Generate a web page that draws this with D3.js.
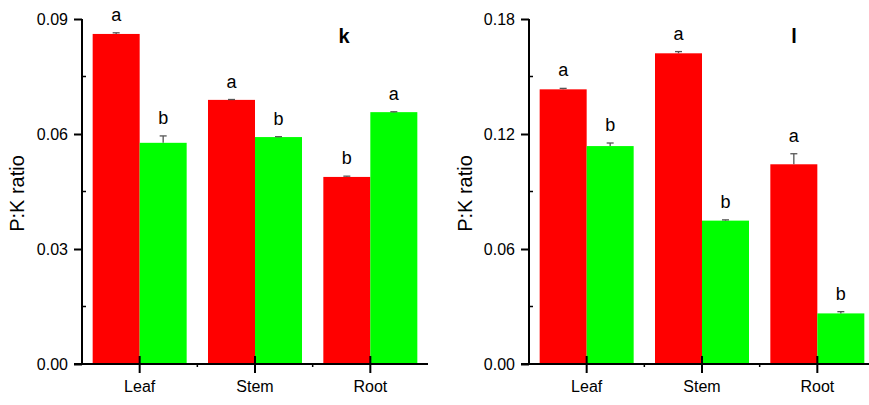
<!DOCTYPE html>
<html>
<head>
<meta charset="utf-8">
<script src="https://cdn.jsdelivr.net/npm/d3@7"></script>
<style>
  html, body { margin: 0; padding: 0; background: #fff; }
  svg { display: block; font-family: "Liberation Sans", Arial, sans-serif; }
</style>
</head>
<body>
<svg id="chart" width="869" height="405"></svg>
<script>
// Tissue categories shared by both panels
const categories = ["Leaf", "Stem", "Root"];

// Panel k: P:K ratio
const kRed = [0.0861, 0.0689, 0.0488];
const kRedErr = [0.0003, 0.0001, 0.0002];
const kGreen = [0.0577, 0.0592, 0.0657];
const kGreenErr = [0.0018, 0.0001, 0.0001];
const kRedLetters = ["a", "a", "b"];
const kGreenLetters = ["b", "b", "a"];
const kTicks = [0.00, 0.03, 0.06, 0.09];

// Panel l: P:K ratio
const lRed = [0.1433, 0.1621, 0.1042];
const lRedErr = [0.0005, 0.0009, 0.0055];
const lGreen = [0.1137, 0.0748, 0.0264];
const lGreenErr = [0.0016, 0.0004, 0.0009];
const lRedLetters = ["a", "a", "a"];
const lGreenLetters = ["b", "b", "b"];
const lTicks = [0.00, 0.06, 0.12, 0.18];

const seriesKeys = ["red", "green"];
const seriesColor = { red: "#ff0000", green: "#00ff00" };

const svg = d3.select("#chart");

function rows(red, redErr, green, greenErr, redL, greenL) {
  return categories.map((c, i) => ({
    category: c,
    values: [
      { key: "red", value: red[i], err: redErr[i], letter: redL[i] },
      { key: "green", value: green[i], err: greenErr[i], letter: greenL[i] }
    ]
  }));
}

function drawPanel(opts) {
  const { left, top, bottom, width, yMax, ticks, data, tag, tagX, tagY, titleX } = opts;
  const g = svg.append("g");

  const x = d3.scaleBand().domain(categories).range([left, left + width]).padding(0);
  const groupW = x.bandwidth() * 0.815;
  const xInner = d3.scaleBand().domain(seriesKeys).range([-groupW / 2, groupW / 2]).padding(0);
  const y = d3.scaleLinear().domain([0, yMax]).range([bottom, top]);

  // bars
  const grp = g.selectAll("g.cat").data(data).join("g")
    .attr("class", "cat")
    .attr("transform", d => `translate(${x(d.category) + x.bandwidth() / 2},0)`);

  grp.selectAll("rect").data(d => d.values).join("rect")
    .attr("x", d => xInner(d.key))
    .attr("width", xInner.bandwidth())
    .attr("y", d => y(d.value))
    .attr("height", d => y(0) - y(d.value))
    .attr("fill", d => seriesColor[d.key]);

  // error bars (upper half)
  const eb = grp.selectAll("g.err").data(d => d.values).join("g")
    .attr("class", "err")
    .attr("stroke", "#555")
    .attr("stroke-width", 1.3);
  eb.append("line")
    .attr("x1", d => xInner(d.key) + xInner.bandwidth() / 2)
    .attr("x2", d => xInner(d.key) + xInner.bandwidth() / 2)
    .attr("y1", d => y(d.value))
    .attr("y2", d => y(d.value + d.err));
  eb.append("line")
    .attr("x1", d => xInner(d.key) + xInner.bandwidth() / 2 - 3.5)
    .attr("x2", d => xInner(d.key) + xInner.bandwidth() / 2 + 3.5)
    .attr("y1", d => y(d.value + d.err))
    .attr("y2", d => y(d.value + d.err));

  // significance letters
  grp.selectAll("text.letter").data(d => d.values).join("text")
    .attr("class", "letter")
    .attr("x", d => xInner(d.key) + xInner.bandwidth() / 2)
    .attr("y", d => y(d.value + d.err) - 12)
    .attr("text-anchor", "middle")
    .attr("font-size", 18)
    .attr("fill", "#000")
    .text(d => d.letter);

  // y axis
  const yAxis = d3.axisLeft(y).tickValues(ticks).tickFormat(d3.format(".2f"))
    .tickSize(8).tickPadding(6);
  const ya = g.append("g").attr("transform", `translate(${left},0)`).call(yAxis);
  ya.select(".domain").attr("d", `M0,${top}V${bottom}`).attr("stroke-width", 2);
  ya.selectAll(".tick line").attr("stroke-width", 2);
  ya.selectAll(".tick text").attr("font-size", 16).attr("fill", "#000")
    .style("font-family", "Liberation Sans, Arial, sans-serif");
  // minor ticks inside
  const minor = d3.range(ticks.length - 1).map(i => (ticks[i] + ticks[i + 1]) / 2);
  g.append("g").selectAll("line").data(minor).join("line")
    .attr("x1", left).attr("x2", left + 4)
    .attr("y1", d => y(d)).attr("y2", d => y(d))
    .attr("stroke", "#000").attr("stroke-width", 1.5);

  // x axis
  const xAxis = d3.axisBottom(x).tickSizeInner(9).tickSizeOuter(0).tickPadding(8);
  const xa = g.append("g").attr("transform", `translate(0,${bottom})`).call(xAxis);
  xa.select(".domain").attr("d", `M${left - 8},0H${left + width}`).attr("stroke-width", 2);
  xa.selectAll(".tick line").attr("y1", -8).attr("stroke-width", 2);
  xa.selectAll(".tick text").attr("font-size", 16).attr("fill", "#000")
    .style("font-family", "Liberation Sans, Arial, sans-serif");
  // minor ticks at band boundaries
  g.append("g").selectAll("line").data(categories.slice(1)).join("line")
    .attr("x1", d => x(d)).attr("x2", d => x(d))
    .attr("y1", bottom).attr("y2", bottom + 3)
    .attr("stroke", "#000").attr("stroke-width", 1.5);

  // y axis title
  g.append("text")
    .attr("transform", `translate(${titleX},${(top + bottom) / 2 + 2}) rotate(-90)`)
    .attr("text-anchor", "middle")
    .attr("font-size", 20)
    .attr("fill", "#000")
    .text("P:K ratio");

  // panel tag
  g.append("text")
    .attr("x", tagX).attr("y", tagY)
    .attr("text-anchor", "middle")
    .attr("font-size", 20)
    .attr("font-weight", "bold")
    .attr("fill", "#000")
    .text(tag);
}

drawPanel({
  left: 82, top: 19, bottom: 364, width: 346, yMax: 0.09, ticks: kTicks,
  data: rows(kRed, kRedErr, kGreen, kGreenErr, kRedLetters, kGreenLetters),
  tag: "k", tagX: 344, tagY: 43, titleX: 24
});

drawPanel({
  left: 529, top: 19, bottom: 364, width: 346, yMax: 0.18, ticks: lTicks,
  data: rows(lRed, lRedErr, lGreen, lGreenErr, lRedLetters, lGreenLetters),
  tag: "l", tagX: 794, tagY: 43, titleX: 472
});
</script>
</body>
</html>
